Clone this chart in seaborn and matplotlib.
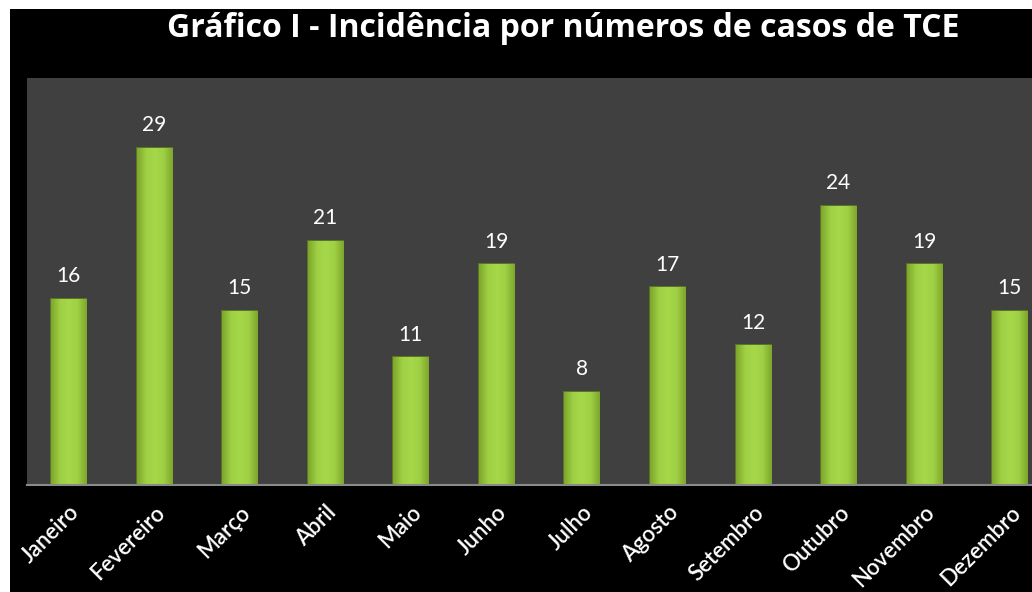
import matplotlib
matplotlib.use("Agg")
import matplotlib.pyplot as plt
import seaborn as sns
import pandas as pd
import numpy as np
from matplotlib.patches import Rectangle
from matplotlib.colors import LinearSegmentedColormap

months = ["Janeiro", "Fevereiro", "Março", "Abril", "Maio", "Junho",
          "Julho", "Agosto", "Setembro", "Outubro", "Novembro", "Dezembro"]
cases = [16, 29, 15, 21, 11, 19, 8, 17, 12, 24, 19, 15]
title = "Gráfico I - Incidência por números de casos de TCE"

sns.set_theme(style="dark")
plt.rcParams['font.family'] = ['Lato', 'DejaVu Sans']

df = pd.DataFrame({"mes": months, "casos": cases})

fig = plt.figure(figsize=(10.32, 5.92), dpi=100, facecolor="white")
fig.patches.append(Rectangle((10/1032, 0), 1, 1 - 9/592, transform=fig.transFigure,
                             facecolor="black", edgecolor="none", zorder=-10))
ax = fig.add_axes([27/1032, 1 - 485/592, 1 - 27/1032, (485 - 78)/592])
ax.set_facecolor("#404040")

sns.barplot(data=df, x="mes", y="casos", ax=ax, color="#98c83e", width=0.41,
            edgecolor="#5d7f1f", linewidth=1.2, saturation=1)

# subtle horizontal gradient on each bar (styling only)
cmap = LinearSegmentedColormap.from_list(
    "bar", ["#7ea62c", "#9fd044", "#a6d84a", "#9fd044", "#7ea62c"])
grad = np.linspace(0, 1, 64).reshape(1, -1)
for p in list(ax.patches):
    x0, w, h = p.get_x(), p.get_width(), p.get_height()
    im = ax.imshow(grad, cmap=cmap, extent=(x0, x0 + w, 0, h), aspect="auto",
                   zorder=p.get_zorder() + 0.1, interpolation="bicubic")
    im.set_clip_path(p)

ax.set_xlim(-0.485, 11.26)
ax.set_ylim(0, 35.0)
ax.set_xlabel("")
ax.set_ylabel("")
ax.set_yticks([])
ax.grid(False)
for s in ["top", "right", "left"]:
    ax.spines[s].set_visible(False)
ax.spines["bottom"].set_color("#8a8a8a")
ax.spines["bottom"].set_linewidth(1.5)
ax.spines["bottom"].set_zorder(5)

for p, v in zip(ax.patches, cases):
    ax.annotate(str(v), (p.get_x() + p.get_width() / 2, v), xytext=(0, 9),
                textcoords="offset points", ha="center", va="bottom",
                color="white", fontsize=15)

ax.tick_params(axis="x", colors="white", length=0, pad=12)
for lbl in ax.get_xticklabels():
    lbl.set_rotation(45)
    lbl.set_ha("right")
    lbl.set_rotation_mode("anchor")
    lbl.set_fontsize(16)
    lbl.set_fontweight("semibold")
    lbl.set_color("white")

fig.text(563/1032, 1 - 37/592, title, ha="center", va="baseline", color="white",
         fontsize=23, fontweight="bold", family=["Open Sans", "Lato", "DejaVu Sans"])

fig.savefig("out.png", dpi=100, facecolor=fig.get_facecolor())
